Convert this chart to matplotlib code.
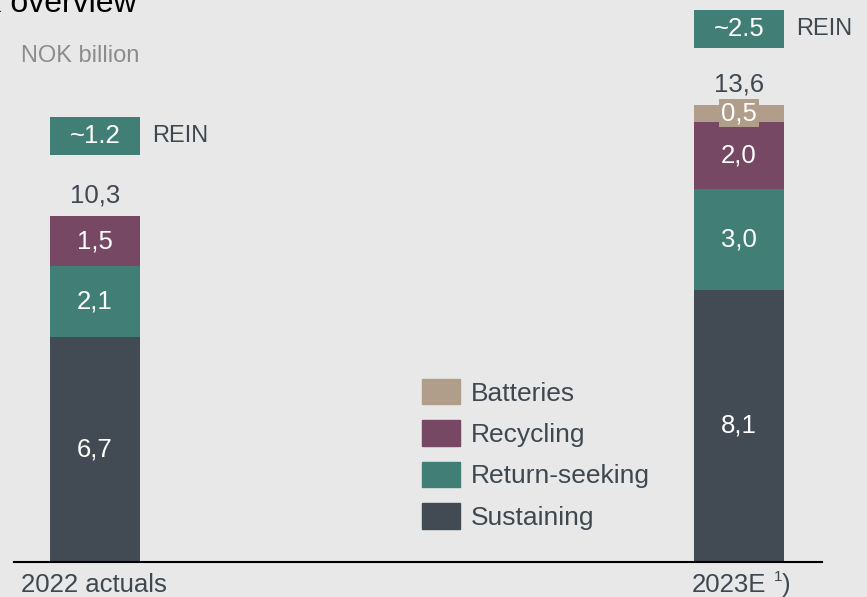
import matplotlib.pyplot as plt
from matplotlib.patches import Patch

plt.rcParams['font.family'] = ['Liberation Sans', 'DejaVu Sans']

# data
periods = ['2022 actuals', '2023E']
footnotes = ['', '1']
segments = ['Sustaining', 'Return-seeking', 'Recycling', 'Batteries']
sustaining = [6.7, 8.1]
return_seeking = [2.1, 3.0]
recycling = [1.5, 2.0]
batteries = [0.0, 0.5]
totals = [10.3, 13.6]
rein = ['~1.2', '~2.5']

colors = {'Sustaining': '#424a53', 'Return-seeking': '#417f76',
          'Recycling': '#764863', 'Batteries': '#b09e8b'}
bg = '#e8e8e8'
txt = '#3f4850'
fs = 18.5

fig = plt.figure(figsize=(8.67, 5.97), dpi=100, facecolor=bg)
ax = fig.add_axes([14 / 867, 35 / 597, 808 / 867, 562 / 597])
ax.set_facecolor(bg)

x = [0, 1]
w = 0.14
bottom = [0.0, 0.0]
for name, vals in zip(segments, [sustaining, return_seeking, recycling, batteries]):
    ax.bar(x, vals, w, bottom=bottom, color=colors[name], label=name)
    for xi, v, b in zip(x, vals, bottom):
        if v == 0:
            continue
        box = None
        if name == 'Batteries':
            box = dict(boxstyle='square,pad=0.08', fc=colors[name], ec='none')
        ax.text(xi, b + v / 2, f'{v:.1f}'.replace('.', ','), ha='center', va='center',
                color='white', fontsize=fs, bbox=box)
    bottom = [b + v for b, v in zip(bottom, vals)]

# totals
for xi, t in zip(x, totals):
    ax.text(xi, t + 0.6, f'{t:.1f}'.replace('.', ','), ha='center', va='center',
            color=txt, fontsize=fs)

# REIN boxes
rein_bottom = [12.11, 15.30]
for xi, r, rb in zip(x, rein, rein_bottom):
    ax.bar(xi, 1.13, w, bottom=rb, color=colors['Return-seeking'])
    ax.text(xi, rb + 0.565, r, ha='center', va='center', color='white', fontsize=fs)
    ax.text(xi + w / 2 + 0.019, rb + 0.565, 'REIN', ha='left', va='center',
            color=txt, fontsize=17)

ax.set_xlim((14 - 95) / 644, (822 - 95) / 644)
ax.set_ylim(0, 562 / 33.6)
for s in ['top', 'right', 'left']:
    ax.spines[s].set_visible(False)
ax.spines['bottom'].set_color('black')
ax.spines['bottom'].set_linewidth(1.5)
ax.set_xticks([])
ax.set_yticks([])

# period labels (with footnote marker on the estimate)
label_x = [-0.115, 0.927]
for lx, p, fn in zip(label_x, periods, footnotes):
    ax.text(lx, -0.33, p, ha='left', va='top', color=txt, fontsize=fs)
    if fn:
        ax.annotate(fn, (lx, -0.33), xytext=(59, 2), textcoords='offset points',
                    ha='left', va='top', color=txt, fontsize=11, annotation_clip=False)
        ax.annotate(')', (lx, -0.33), xytext=(65, 0), textcoords='offset points',
                    ha='left', va='top', color=txt, fontsize=fs, annotation_clip=False)

handles = [Patch(color=colors[s]) for s in reversed(segments)]
ax.legend(handles, list(reversed(segments)), loc='upper left',
          bbox_to_anchor=(422 / 867, 1 - 379 / 597), bbox_transform=fig.transFigure,
          frameon=False, fontsize=19, handlelength=1.44, handleheight=1.1,
          labelspacing=0.56, handletextpad=0.42, borderpad=0, borderaxespad=0,
          labelcolor=txt)

fig.text(137 / 867, 1 - 12 / 597, 'Capex overview', ha='right', va='baseline',
         fontsize=23, color='black')
fig.text(21 / 867, 1 - 56 / 597, 'NOK billion', ha='left', va='center',
         fontsize=17, color='#8c8c8c')

fig.savefig('out.png', dpi=100, facecolor=bg)
